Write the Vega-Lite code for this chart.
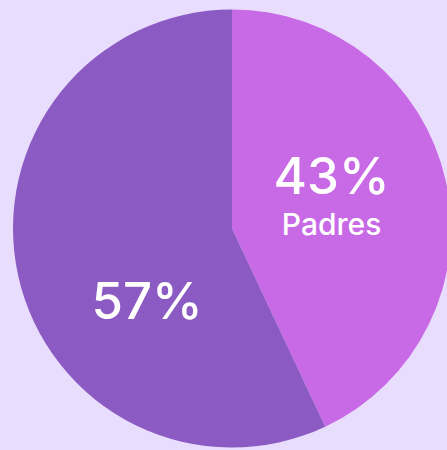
{
  "$schema": "https://vega.github.io/schema/vega-lite/v6.json",
  "autosize": {"type": "fit", "contains": "padding"},
  "width": 447,
  "height": 450,
  "padding": {"left": 17, "top": 9, "right": 0, "bottom": 2},
  "background": "#e9ddfd",
  "config": {"view": {"stroke": null}},
  "data": {"values": [
    {"grupo": "Padres", "valor": 43, "pct": "43%", "orden": 1},
    {"grupo": "Otros", "valor": 57, "pct": "57%", "orden": 2}
  ]},
  "encoding": {
    "theta": {"field": "valor", "type": "quantitative", "stack": true},
    "order": {"field": "orden", "type": "quantitative"}
  },
  "layer": [
    {
      "mark": {"type": "arc", "stroke": null},
      "encoding": {
        "radius": {"value": 219},
        "color": {"field": "grupo", "type": "nominal", "scale": {"domain": ["Padres", "Otros"], "range": ["#c86ae5", "#8b5ac2"]}, "legend": null}
      }
    },
    {
      "mark": {"type": "text", "font": "Inter", "fontWeight": 500, "fontSize": 51, "color": "white", "dy": -27},
      "encoding": {
        "radius": {"value": 102},
        "text": {"condition": {"test": "datum.grupo == 'Padres'", "field": "pct"}, "value": ""}
      }
    },
    {
      "mark": {"type": "text", "font": "Inter", "fontWeight": 500, "fontSize": 30, "color": "white", "dy": 20},
      "encoding": {
        "radius": {"value": 102},
        "text": {"condition": {"test": "datum.grupo == 'Padres'", "field": "grupo"}, "value": ""}
      }
    },
    {
      "mark": {"type": "text", "font": "Inter", "fontWeight": 500, "fontSize": 51, "color": "white", "dy": 57},
      "encoding": {
        "radius": {"value": 87},
        "text": {"condition": {"test": "datum.grupo == 'Otros'", "field": "pct"}, "value": ""}
      }
    }
  ]
}
